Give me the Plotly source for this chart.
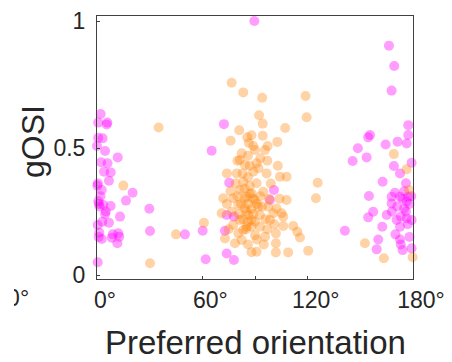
import plotly.graph_objects as go

# Magenta population: preferred orientation (deg) and gOSI
mag_ori = [2.1, 0.7, 5.9, 5.5, 0.7, 3.2, 0.0, 4.6, 11.8, 2.3, 4.0, 7.8, 6.8, 0.2, 2.7, 20.3, 16.5,
           1.1, 3.6, 7.8, 29.8, 4.6, 13.1, 0.4, 6.8, 30.2, 1.3, 12.1, 2.7, 8.4, 12.7, 11.6, 50.1, 0.4,
           0.5, 1.5, 0.8, 2.0, 5.0, 3.0, 9.0, 1.0, 6.0,
           89.6, 72.3, 65.3, 75.3, 60.2, 72.9, 73.9, 78.0, 73.9, 78.0, 61.9, 100.8, 98.5,
           166.3, 169.3, 167.8, 177.3, 177.3, 155.5, 154.5, 164.4, 171.2, 176.4, 148.6, 145.6, 153.6,
           179.2, 169.1, 172.6, 162.7, 176.0, 154.9, 169.7, 172.6, 176.4, 167.8, 175.0, 157.3, 154.5,
           165.0, 170.7, 176.4, 162.5, 179.2, 172.6, 141.2, 160.2, 172.6, 159.3, 174.1, 179.2, 167.8,
           177.3, 174.0, 178.0, 171.0, 176.0, 173.0, 179.0, 177.0, 175.0, 168.0, 170.0, 178.0, 173.0]
mag_gosi = [0.634, 0.60, 0.60, 0.593, 0.54, 0.538, 0.508, 0.488, 0.463, 0.444, 0.407, 0.404, 0.371,
            0.352, 0.335, 0.324, 0.293, 0.28, 0.276, 0.272, 0.261, 0.24, 0.23, 0.197, 0.206, 0.173,
            0.167, 0.164, 0.142, 0.147, 0.151, 0.125, 0.16, 0.05,
            0.36, 0.27, 0.29, 0.31, 0.25, 0.21, 0.16, 0.15, 0.44,
            1.0, 0.594, 0.489, 0.363, 0.174, 0.174, 0.236, 0.23, 0.085, 0.059, 0.062, 0.335, 0.295,
            0.903, 0.823, 0.726, 0.59, 0.551, 0.551, 0.542, 0.514, 0.525, 0.518, 0.499, 0.449, 0.463,
            0.442, 0.429, 0.40, 0.367, 0.361, 0.311, 0.324, 0.308, 0.289, 0.282, 0.262, 0.249, 0.227,
            0.236, 0.217, 0.223, 0.19, 0.217, 0.19, 0.174, 0.14, 0.14, 0.101, 0.098, 0.105, 0.308,
            0.308, 0.30, 0.28, 0.27, 0.25, 0.23, 0.31, 0.20, 0.33, 0.25, 0.16, 0.15, 0.12]

# Orange population
org_ori = [35.1, 15.0, 45.0, 30.2, 60.9,
           76.7, 83.3, 94.1, 92.3, 94.4, 107.2, 118.8, 119.4, 76.1, 85.6, 94.4, 102.7, 89.0, 97.2, 86.5,
           82.4, 90.0, 95.7, 81.4, 90.9, 84.3, 79.6, 89.0, 96.6, 104.2, 108.0, 83.3, 90.9, 125.7, 124.7,
           81.4, 88.1, 94.7, 71.9, 77.6, 85.2, 90.0, 108.0, 80.5, 84.3, 91.9, 97.6, 102.3, 71.0, 76.7,
           86.2, 92.8, 100.4, 105.2, 81.4, 88.1, 98.5, 106.1, 77.6, 85.2, 92.8, 106.1, 111.8, 114.1,
           115.6, 72.9, 80.5, 90.0, 95.7, 101.9, 83.3, 78.6, 82.4, 101.9, 90.9, 101.9, 108.9, 120.3,
           169.1, 176.4, 177.8, 152.6, 163.4, 179.8,
           84.0, 86.0, 87.0, 85.0, 88.0, 83.0, 86.0, 89.0, 84.0, 82.0, 87.0, 80.0, 89.0, 85.0, 88.0,
           91.0, 93.0, 83.0, 87.0, 92.0, 86.0, 79.0, 81.0, 90.0, 96.0, 94.0, 76.0, 74.0, 98.0, 99.0,
           86.0, 93.0, 80.0, 88.0, 81.0, 97.0, 74.0, 103.0, 91.0, 86.0, 95.0, 88.0, 97.0, 75.0, 104.0,
           101.0]
org_gosi = [0.581, 0.352, 0.16, 0.046, 0.206,
            0.757, 0.719, 0.698, 0.629, 0.596, 0.579, 0.705, 0.621, 0.529, 0.542, 0.548, 0.524, 0.508,
            0.508, 0.52, 0.479, 0.492, 0.492, 0.453, 0.44, 0.433, 0.40, 0.407, 0.40, 0.387, 0.387,
            0.367, 0.361, 0.363, 0.302, 0.335, 0.322, 0.328, 0.302, 0.302, 0.308, 0.295, 0.295, 0.276,
            0.262, 0.269, 0.269, 0.262, 0.243, 0.249, 0.236, 0.236, 0.243, 0.243, 0.217, 0.217, 0.217,
            0.23, 0.197, 0.19, 0.19, 0.193, 0.193, 0.17, 0.148, 0.144, 0.164, 0.157, 0.151, 0.164,
            0.177, 0.125, 0.138, 0.125, 0.092, 0.089, 0.089, 0.096,
            0.476, 0.416, 0.335, 0.125, 0.066, 0.07,
            0.30, 0.28, 0.32, 0.25, 0.26, 0.22, 0.21, 0.24, 0.34, 0.28, 0.35, 0.31, 0.30, 0.18, 0.19,
            0.28, 0.31, 0.40, 0.43, 0.42, 0.47, 0.36, 0.24, 0.21, 0.22, 0.27, 0.33, 0.28, 0.30, 0.36,
            0.385, 0.46, 0.45, 0.55, 0.57, 0.45, 0.40, 0.43, 0.14, 0.12, 0.12, 0.09, 0.18, 0.18, 0.30,
            0.20]

x_ticks = [0, 60, 90, 120, 180]
x_ticktext = ["0°", "60°", "", "120°", "180°"]
y_ticks = [0, 0.5, 1]
y_ticktext = ["0", "0.5", "1"]

W, H = 452, 362
FONT = "Liberation Sans, Arial, sans-serif"
TXT = "#262626"
AX = "#404040"

fig = go.Figure()
fig.add_trace(go.Scatter(x=mag_ori, y=mag_gosi, mode="markers", cliponaxis=False,
                         marker=dict(size=10, color="rgb(255,0,255)", opacity=0.38, line=dict(width=0)),
                         showlegend=False, hoverinfo="skip"))
fig.add_trace(go.Scatter(x=org_ori, y=org_gosi, mode="markers", cliponaxis=False,
                         marker=dict(size=10, color="rgb(255,128,0)", opacity=0.35, line=dict(width=0)),
                         showlegend=False, hoverinfo="skip"))
# clipped fragment of a neighbouring panel's tick label
fig.add_trace(go.Scatter(x=[18.1], y=[0], mode="text", text=["0°"], cliponaxis=True,
                         textposition="middle center",
                         textfont=dict(family=FONT, size=23, color=TXT),
                         xaxis="x2", yaxis="y2", showlegend=False, hoverinfo="skip"))

fig.update_layout(
    width=W, height=H,
    margin=dict(l=0, r=0, t=0, b=0, autoexpand=False),
    paper_bgcolor="white", plot_bgcolor="white",
    font=dict(family=FONT, color=TXT),
    xaxis=dict(domain=[97 / W, 413 / W], range=[0, 180], tickvals=x_ticks, ticktext=x_ticktext,
               ticks="inside", ticklen=3, tickcolor=AX, showline=True, linecolor=AX, linewidth=1,
               mirror=True, showgrid=False, zeroline=False, ticklabelshift=8, automargin=False,
               tickfont=dict(family=FONT, size=23, color=TXT)),
    yaxis=dict(domain=[(H - 279) / H, (H - 16) / H], range=[-0.0157, 1.0197], tickvals=y_ticks,
               ticktext=y_ticktext, ticks="inside", ticklen=3, tickcolor=AX, showline=True,
               linecolor=AX, linewidth=1, mirror=True, showgrid=False, zeroline=False,
               automargin=False, ticklabelstandoff=6,
               tickfont=dict(family=FONT, size=23, color=TXT)),
    xaxis2=dict(domain=[14 / W, 60 / W], range=[14, 60], visible=False, anchor="y2", automargin=False),
    yaxis2=dict(domain=[(H - 312) / H, (H - 288) / H], range=[-1, 1], visible=False, anchor="x2",
                automargin=False),
    annotations=[
        dict(text="gOSI", xref="paper", yref="paper", x=33 / W, y=(H - 142) / H, textangle=-90,
             showarrow=False, xanchor="center", yanchor="middle",
             font=dict(family=FONT, size=32, color=TXT)),
        dict(text="Preferred orientation", xref="paper", yref="paper", x=255 / W, y=(H - 342) / H,
             showarrow=False, xanchor="center", yanchor="middle",
             font=dict(family=FONT, size=33, color=TXT)),
    ],
)

fig.write_html("out.html")
